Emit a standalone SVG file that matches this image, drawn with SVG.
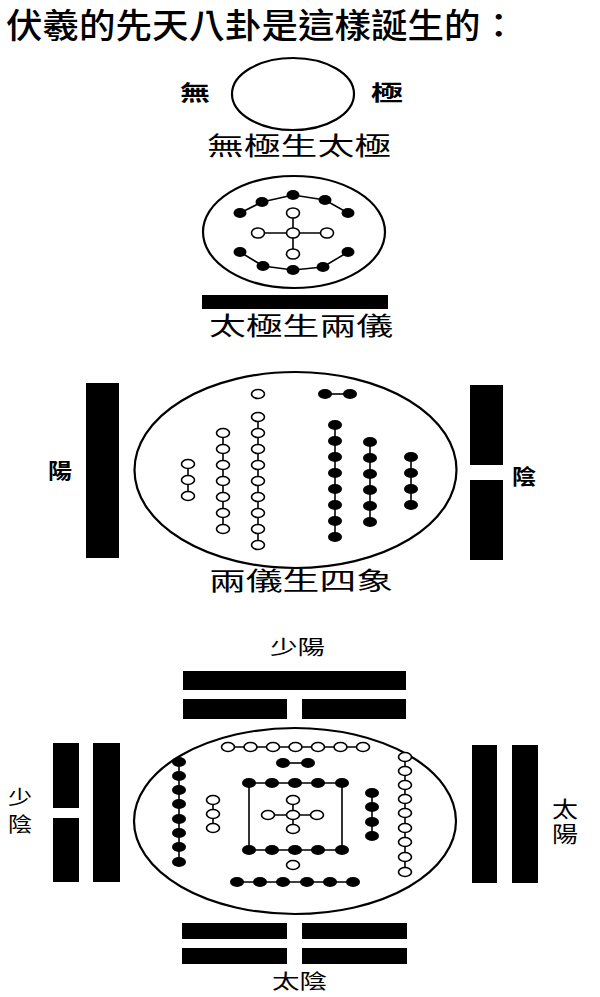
<svg xmlns="http://www.w3.org/2000/svg" width="600" height="997" viewBox="0 0 600 997">
<style>
.ring{fill:none;stroke:#000;stroke-width:2.2}
.w{fill:#fff;stroke:#000;stroke-width:1.6}
.b{fill:#000}
.ln{fill:none;stroke:#000;stroke-width:1.6}
.bar{fill:#000}
.t{font-family:"Noto Sans CJK TC","Noto Sans CJK SC",sans-serif;fill:#000}
.tv{font-family:"Liberation Sans","Noto Sans CJK TC","Noto Sans CJK SC",sans-serif;fill:#000}
.ti{font-size:34px;font-weight:500}
.sub{font-size:25px}
.lb{font-size:21px;font-weight:700}
.lb2{font-size:20px}
.lb3{font-size:22px}
</style>
<rect width="600" height="997" fill="#fff"/>
<g id="title"><text class="t ti" x="6" y="38" textLength="511" lengthAdjust="spacingAndGlyphs">伏羲的先天八卦是這樣誕生的：</text></g>

<g id="connectors">
 <polyline class="ln" points="240,213 262,202 293,195 325,200 348,213"/>
 <polyline class="ln" points="240,252 263,266 293,270 323,267 348,252"/>
 <line class="ln" x1="258" y1="233" x2="327" y2="233"/>
 <line class="ln" x1="293" y1="213" x2="293" y2="254"/>
 <line class="ln" x1="188" y1="464" x2="188" y2="496"/>
 <line class="ln" x1="223" y1="433" x2="223" y2="529"/>
 <line class="ln" x1="258" y1="417" x2="258" y2="545"/>
 <line class="ln" x1="325" y1="394" x2="350" y2="394"/>
 <line class="ln" x1="335" y1="425" x2="335" y2="537"/>
 <line class="ln" x1="370" y1="442" x2="370" y2="522"/>
 <line class="ln" x1="411" y1="457" x2="411" y2="505"/>
 <line class="ln" x1="228" y1="747" x2="363" y2="747"/>
 <line class="ln" x1="283" y1="763" x2="308" y2="763"/>
 <polyline class="ln" points="249,850 249,783 342,783 342,850 249,850"/>
 <line class="ln" x1="268" y1="815" x2="317" y2="815"/>
 <line class="ln" x1="293" y1="800" x2="293" y2="829"/>
 <line class="ln" x1="237" y1="882" x2="353" y2="882"/>
 <line class="ln" x1="179" y1="762" x2="179" y2="862"/>
 <line class="ln" x1="213" y1="800" x2="213" y2="828"/>
 <line class="ln" x1="372" y1="793" x2="372" y2="836"/>
 <line class="ln" x1="405" y1="757" x2="405" y2="872"/>
</g>

<g id="wuji">
 <ellipse class="ring" cx="293" cy="94" rx="61" ry="36"/>
 <text class="t lb" x="180" y="100" textLength="30" lengthAdjust="spacingAndGlyphs">無</text>
 <text class="t lb" x="371" y="100" textLength="32" lengthAdjust="spacingAndGlyphs">極</text>
 <text class="t sub" x="207" y="155" textLength="184" lengthAdjust="spacingAndGlyphs">無極生太極</text>
</g>

<g id="taiji">
 <ellipse class="ring" cx="294" cy="232" rx="91" ry="56"/>
 <g class="b">
  <ellipse cx="240" cy="213" rx="6.5" ry="5"/><ellipse cx="262" cy="202" rx="6.5" ry="5"/><ellipse cx="293" cy="195" rx="6.5" ry="5"/><ellipse cx="325" cy="200" rx="6.5" ry="5"/><ellipse cx="348" cy="213" rx="6.5" ry="5"/>
  <ellipse cx="240" cy="252" rx="6.5" ry="5"/><ellipse cx="263" cy="266" rx="6.5" ry="5"/><ellipse cx="293" cy="270" rx="6.5" ry="5"/><ellipse cx="323" cy="267" rx="6.5" ry="5"/><ellipse cx="348" cy="252" rx="6.5" ry="5"/>
 </g>
 <g class="w">
  <ellipse cx="293" cy="213" rx="6.5" ry="5"/><ellipse cx="258" cy="233" rx="6.5" ry="5"/><ellipse cx="293" cy="233" rx="6.5" ry="5"/><ellipse cx="327" cy="233" rx="6.5" ry="5"/><ellipse cx="293" cy="254" rx="6.5" ry="5"/>
 </g>
 <rect class="bar" x="202" y="295" width="186" height="14"/>
 <text class="t sub" x="209" y="335" textLength="184" lengthAdjust="spacingAndGlyphs">太極生兩儀</text>
</g>

<g id="liangyi">
 <ellipse class="ring" cx="295.5" cy="470" rx="161" ry="98"/>
 <rect class="bar" x="86" y="383" width="33" height="175"/>
 <rect class="bar" x="470" y="385" width="33" height="80"/>
 <rect class="bar" x="470" y="480" width="33" height="80"/>
 <text class="t lb" x="48" y="478" textLength="24" lengthAdjust="spacingAndGlyphs">陽</text>
 <text class="t lb" x="512" y="484" textLength="24" lengthAdjust="spacingAndGlyphs">陰</text>
 <g class="w">
  <ellipse cx="188" cy="464" rx="6.5" ry="4.5"/><ellipse cx="188" cy="480" rx="6.5" ry="4.5"/><ellipse cx="188" cy="496" rx="6.5" ry="4.5"/>
  <ellipse cx="223" cy="433" rx="6.5" ry="4.5"/><ellipse cx="223" cy="449" rx="6.5" ry="4.5"/><ellipse cx="223" cy="465" rx="6.5" ry="4.5"/><ellipse cx="223" cy="481" rx="6.5" ry="4.5"/><ellipse cx="223" cy="497" rx="6.5" ry="4.5"/><ellipse cx="223" cy="513" rx="6.5" ry="4.5"/><ellipse cx="223" cy="529" rx="6.5" ry="4.5"/>
  <ellipse cx="258" cy="394" rx="6.5" ry="4.5"/>
  <ellipse cx="258" cy="417" rx="6.5" ry="4.5"/><ellipse cx="258" cy="433" rx="6.5" ry="4.5"/><ellipse cx="258" cy="449" rx="6.5" ry="4.5"/><ellipse cx="258" cy="465" rx="6.5" ry="4.5"/><ellipse cx="258" cy="481" rx="6.5" ry="4.5"/><ellipse cx="258" cy="497" rx="6.5" ry="4.5"/><ellipse cx="258" cy="513" rx="6.5" ry="4.5"/><ellipse cx="258" cy="529" rx="6.5" ry="4.5"/><ellipse cx="258" cy="545" rx="6.5" ry="4.5"/>
 </g>
 <g class="b">
  <ellipse cx="325" cy="394" rx="7" ry="5"/><ellipse cx="350" cy="394" rx="7" ry="5"/>
  <ellipse cx="335" cy="425" rx="7" ry="5"/><ellipse cx="335" cy="441" rx="7" ry="5"/><ellipse cx="335" cy="457" rx="7" ry="5"/><ellipse cx="335" cy="473" rx="7" ry="5"/><ellipse cx="335" cy="489" rx="7" ry="5"/><ellipse cx="335" cy="505" rx="7" ry="5"/><ellipse cx="335" cy="521" rx="7" ry="5"/><ellipse cx="335" cy="537" rx="7" ry="5"/>
  <ellipse cx="370" cy="442" rx="7" ry="5"/><ellipse cx="370" cy="458" rx="7" ry="5"/><ellipse cx="370" cy="474" rx="7" ry="5"/><ellipse cx="370" cy="490" rx="7" ry="5"/><ellipse cx="370" cy="506" rx="7" ry="5"/><ellipse cx="370" cy="522" rx="7" ry="5"/>
  <ellipse cx="411" cy="457" rx="7" ry="5"/><ellipse cx="411" cy="473" rx="7" ry="5"/><ellipse cx="411" cy="489" rx="7" ry="5"/><ellipse cx="411" cy="505" rx="7" ry="5"/>
 </g>
 <text class="t sub" x="209" y="590" textLength="184" lengthAdjust="spacingAndGlyphs">兩儀生四象</text>
</g>

<g id="sixiang">
 <ellipse class="ring" cx="295" cy="821" rx="161" ry="93"/>
 <text class="t lb2" x="270" y="655" textLength="55" lengthAdjust="spacingAndGlyphs">少陽</text>
 <rect class="bar" x="183" y="671" width="223" height="19"/>
 <rect class="bar" x="183" y="699" width="104" height="20"/>
 <rect class="bar" x="302" y="699" width="104" height="20"/>
 <rect class="bar" x="53" y="743" width="26" height="65"/>
 <rect class="bar" x="53" y="818" width="26" height="64"/>
 <rect class="bar" x="93" y="743" width="27" height="139"/>
 <text class="tv lb2" x="8" y="805" textLength="24" lengthAdjust="spacingAndGlyphs">少</text>
 <text class="tv lb2" x="8" y="832" textLength="24" lengthAdjust="spacingAndGlyphs">陰</text>
 <rect class="bar" x="472" y="745" width="25" height="138"/>
 <rect class="bar" x="512" y="745" width="26" height="138"/>
 <text class="tv lb3" x="552" y="817" textLength="26" lengthAdjust="spacingAndGlyphs">太</text>
 <text class="tv lb3" x="552" y="842" textLength="26" lengthAdjust="spacingAndGlyphs">陽</text>
 <rect class="bar" x="182" y="923" width="105" height="16"/>
 <rect class="bar" x="302" y="923" width="105" height="16"/>
 <rect class="bar" x="182" y="948" width="105" height="16"/>
 <rect class="bar" x="302" y="948" width="105" height="16"/>
 <text class="t lb2" x="272" y="989" textLength="55" lengthAdjust="spacingAndGlyphs">太陰</text>
 <g class="w">
  <ellipse cx="228" cy="747" rx="6.5" ry="4.5"/><ellipse cx="250.5" cy="747" rx="6.5" ry="4.5"/><ellipse cx="273" cy="747" rx="6.5" ry="4.5"/><ellipse cx="295.5" cy="747" rx="6.5" ry="4.5"/><ellipse cx="318" cy="747" rx="6.5" ry="4.5"/><ellipse cx="340.5" cy="747" rx="6.5" ry="4.5"/><ellipse cx="363" cy="747" rx="6.5" ry="4.5"/>
  <ellipse cx="293" cy="800" rx="6.5" ry="4.5"/><ellipse cx="268" cy="815" rx="6.5" ry="4.5"/><ellipse cx="293" cy="815" rx="6.5" ry="4.5"/><ellipse cx="317" cy="815" rx="6.5" ry="4.5"/><ellipse cx="293" cy="829" rx="6.5" ry="4.5"/>
  <ellipse cx="293" cy="865" rx="6.5" ry="4.5"/>
  <ellipse cx="213" cy="800" rx="6.5" ry="4.5"/><ellipse cx="213" cy="814" rx="6.5" ry="4.5"/><ellipse cx="213" cy="828" rx="6.5" ry="4.5"/>
  <ellipse cx="405" cy="757" rx="6.5" ry="4.5"/><ellipse cx="405" cy="771" rx="6.5" ry="4.5"/><ellipse cx="405" cy="785" rx="6.5" ry="4.5"/><ellipse cx="405" cy="799" rx="6.5" ry="4.5"/><ellipse cx="405" cy="813" rx="6.5" ry="4.5"/><ellipse cx="405" cy="828" rx="6.5" ry="4.5"/><ellipse cx="405" cy="842" rx="6.5" ry="4.5"/><ellipse cx="405" cy="857" rx="6.5" ry="4.5"/><ellipse cx="405" cy="872" rx="6.5" ry="4.5"/>
 </g>
 <g class="b">
  <ellipse cx="283" cy="763" rx="7" ry="5"/><ellipse cx="308" cy="763" rx="7" ry="5"/>
  <ellipse cx="249" cy="783" rx="7" ry="5"/><ellipse cx="272" cy="783" rx="7" ry="5"/><ellipse cx="295" cy="783" rx="7" ry="5"/><ellipse cx="318" cy="783" rx="7" ry="5"/><ellipse cx="342" cy="783" rx="7" ry="5"/>
  <ellipse cx="249" cy="850" rx="7" ry="5"/><ellipse cx="272" cy="850" rx="7" ry="5"/><ellipse cx="295" cy="850" rx="7" ry="5"/><ellipse cx="318" cy="850" rx="7" ry="5"/><ellipse cx="342" cy="850" rx="7" ry="5"/>
  <ellipse cx="237" cy="882" rx="7" ry="5"/><ellipse cx="260" cy="882" rx="7" ry="5"/><ellipse cx="283" cy="882" rx="7" ry="5"/><ellipse cx="307" cy="882" rx="7" ry="5"/><ellipse cx="330" cy="882" rx="7" ry="5"/><ellipse cx="353" cy="882" rx="7" ry="5"/>
  <ellipse cx="179" cy="762" rx="7" ry="5"/><ellipse cx="179" cy="776" rx="7" ry="5"/><ellipse cx="179" cy="790" rx="7" ry="5"/><ellipse cx="179" cy="804" rx="7" ry="5"/><ellipse cx="179" cy="819" rx="7" ry="5"/><ellipse cx="179" cy="833" rx="7" ry="5"/><ellipse cx="179" cy="847" rx="7" ry="5"/><ellipse cx="179" cy="862" rx="7" ry="5"/>
  <ellipse cx="372" cy="793" rx="7" ry="5"/><ellipse cx="372" cy="807" rx="7" ry="5"/><ellipse cx="372" cy="822" rx="7" ry="5"/><ellipse cx="372" cy="836" rx="7" ry="5"/>
 </g>
</g>
</svg>
